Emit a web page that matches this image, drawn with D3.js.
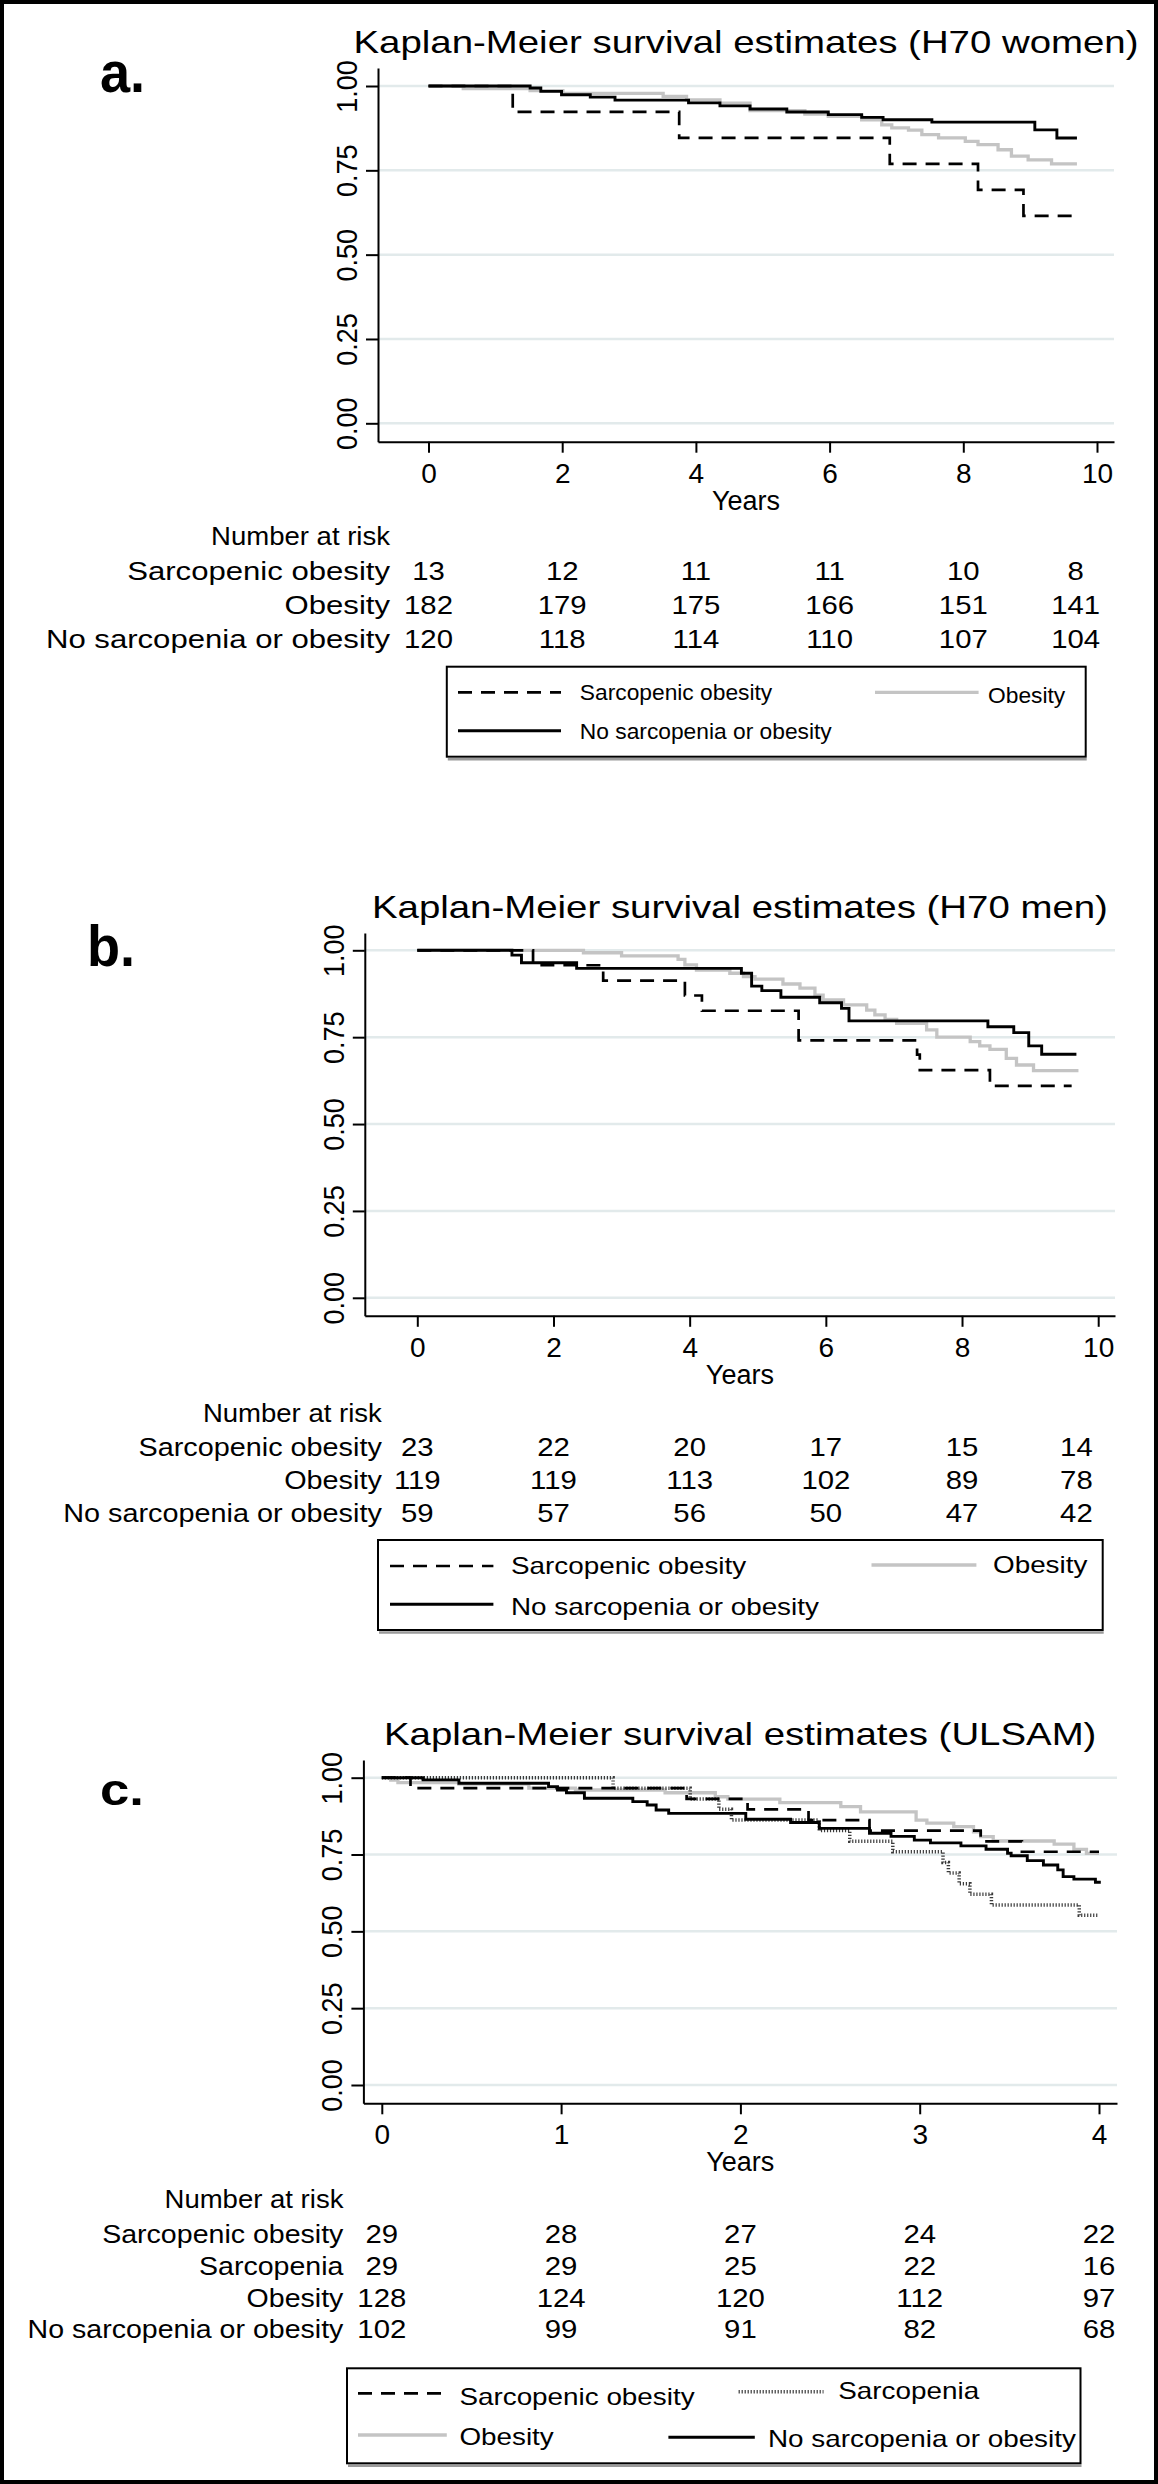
<!DOCTYPE html>
<html>
<head>
<meta charset="utf-8">
<script src="https://cdn.jsdelivr.net/npm/d3@7"></script>
<style>
    body { margin: 0; background: #fff; }
    text { font-family: "Liberation Sans", Arial, Helvetica, sans-serif; fill: #000; }
</style>
</head>
<body>
<svg width="1158" height="2484"></svg>
<script>
// ticks and titles
const yTicks = [0, 0.25, 0.5, 0.75, 1];
const aXTicks = [0, 2, 4, 6, 8, 10];
const bXTicks = [0, 2, 4, 6, 8, 10];
const cXTicks = [0, 1, 2, 3, 4];

const titles = [
    "Kaplan-Meier survival estimates (H70 women)",
    "Kaplan-Meier survival estimates (H70 men)",
    "Kaplan-Meier survival estimates (ULSAM)"
];
const panelLabels = ["a.", "b.", "c."];
const groupNames = { so: "Sarcopenic obesity", sp: "Sarcopenia", ob: "Obesity", no: "No sarcopenia or obesity" };

// survival steps [years, survival]
const aSarcObesity = [[0, 1], [1.26, 0.923], [3.75, 0.846], [6.90, 0.769], [8.22, 0.692], [8.90, 0.615], [9.65, 0.615]];
const aObesity = [[0, 1], [0.52, 0.992], [1.52, 0.986], [2.01, 0.978], [3.51, 0.969], [3.86, 0.959], [4.36, 0.949],
    [4.81, 0.927], [5.63, 0.917], [5.98, 0.910], [6.48, 0.900], [6.78, 0.885], [6.93, 0.876], [7.18, 0.869],
    [7.38, 0.856], [7.63, 0.846], [8.03, 0.836], [8.22, 0.826], [8.52, 0.811], [8.72, 0.792], [8.97, 0.781],
    [9.32, 0.769], [9.70, 0.769]];
const aNoSarc = [[0, 1], [1.52, 0.994], [1.68, 0.984], [1.99, 0.974], [2.42, 0.967], [2.79, 0.958], [3.89, 0.950],
    [4.36, 0.941], [4.81, 0.932], [5.36, 0.923], [5.98, 0.915], [6.48, 0.907], [6.80, 0.900], [7.53, 0.893],
    [9.07, 0.870], [9.40, 0.846], [9.70, 0.846]];

const bSarcObesity = [[0, 1], [1.70, 0.957], [2.73, 0.913], [3.93, 0.870], [4.18, 0.826], [5.60, 0.741],
    [7.34, 0.700], [7.38, 0.655], [8.41, 0.610], [9.61, 0.610]];
const bObesity = [[0, 1], [2.44, 0.993], [3.00, 0.984], [3.83, 0.974], [3.93, 0.958], [4.10, 0.943], [4.59, 0.934],
    [4.79, 0.924], [4.96, 0.917], [5.37, 0.903], [5.62, 0.891], [5.84, 0.871], [5.96, 0.857], [6.26, 0.843],
    [6.60, 0.828], [6.72, 0.814], [6.87, 0.801], [7.04, 0.790], [7.48, 0.771], [7.63, 0.750], [8.12, 0.737],
    [8.26, 0.725], [8.41, 0.715], [8.65, 0.689], [8.80, 0.670], [9.05, 0.654], [9.71, 0.654]];
const bNoSarc = [[0, 1], [1.39, 0.986], [1.53, 0.964], [2.34, 0.948], [4.76, 0.934], [4.91, 0.897], [5.06, 0.884],
    [5.34, 0.865], [5.91, 0.849], [6.23, 0.833], [6.34, 0.797], [8.38, 0.780], [8.76, 0.763], [8.98, 0.725],
    [9.17, 0.701], [9.68, 0.701]];

const cSarcObesity = [[0, 1], [0.16, 0.966], [1.70, 0.931], [2.04, 0.897], [2.38, 0.862], [2.72, 0.828],
    [3.34, 0.793], [3.57, 0.759], [4.0, 0.759]];
const cSarcopenia = [[0, 1], [1.29, 0.966], [1.72, 0.931], [1.88, 0.897], [1.95, 0.862], [2.44, 0.828],
    [2.61, 0.793], [2.85, 0.759], [3.13, 0.724], [3.16, 0.690], [3.22, 0.655], [3.28, 0.621], [3.40, 0.586],
    [3.89, 0.552], [4.0, 0.552]];
const cObesity = [[0, 1], [0.05, 0.992], [0.09, 0.984], [0.43, 0.979], [0.82, 0.966], [1.08, 0.960], [1.58, 0.951],
    [1.86, 0.938], [1.93, 0.930], [2.22, 0.919], [2.56, 0.906], [2.67, 0.889], [2.98, 0.862], [3.04, 0.852],
    [3.19, 0.841], [3.30, 0.824], [3.34, 0.808], [3.41, 0.794], [3.75, 0.784], [3.86, 0.767], [3.93, 0.754],
    [4.0, 0.754]];
const cNoSarc = [[0, 1], [0.23, 0.993], [0.43, 0.982], [0.93, 0.971], [0.98, 0.960], [1.03, 0.951], [1.13, 0.933],
    [1.40, 0.922], [1.48, 0.911], [1.53, 0.895], [1.60, 0.884], [2.03, 0.865], [2.28, 0.854], [2.44, 0.835],
    [2.72, 0.819], [2.84, 0.809], [2.97, 0.797], [3.06, 0.788], [3.23, 0.778], [3.37, 0.767], [3.49, 0.754],
    [3.51, 0.746], [3.60, 0.730], [3.69, 0.716], [3.77, 0.700], [3.80, 0.678], [3.86, 0.670], [3.98, 0.660],
    [4.01, 0.660]];

// number at risk
const aRiskTimes = [0, 2, 4, 6, 8, 9.68];
const aRiskSO = [13, 12, 11, 11, 10, 8];
const aRiskOB = [182, 179, 175, 166, 151, 141];
const aRiskNO = [120, 118, 114, 110, 107, 104];

const bRiskTimes = [0, 2, 4, 6, 8, 9.68];
const bRiskSO = [23, 22, 20, 17, 15, 14];
const bRiskOB = [119, 119, 113, 102, 89, 78];
const bRiskNO = [59, 57, 56, 50, 47, 42];

const cRiskTimes = [0, 1, 2, 3, 4];
const cRiskSO = [29, 28, 27, 24, 22];
const cRiskSP = [29, 29, 25, 22, 16];
const cRiskOB = [128, 124, 120, 112, 97];
const cRiskNO = [102, 99, 91, 82, 68];

const styles = {
    so: { color: "#000", width: 2.7, dash: "14,9" },
    sp: { color: "#3a3a3a", width: 3.5, dash: "1.2,1.8" },
    ob: { color: "#c4c4c4", width: 3.3, dash: null },
    no: { color: "#000", width: 2.9, dash: null }
};
const drawOrder = ["ob", "sp", "so", "no"];

let svg = d3.select("svg");

svg.append("rect")
    .attr("x", 2).attr("y", 2).attr("width", 1154).attr("height", 2480)
    .attr("fill", "#fff").attr("stroke", "#000").attr("stroke-width", 4);

const panels = [
    {
        left: 378, right: 1114, top: 68, bottom: 441.7,
        xMax: 10, xRange: [428.5, 1097], yRange: [423.3, 86], xTicks: aXTicks,
        title: titles[0], titleY: 53, label: panelLabels[0], labelX: 100, labelY: 92, labelSize: 57, labelSx: 0.95,
        series: { so: aSarcObesity, ob: aObesity, no: aNoSarc },
        riskTimes: aRiskTimes, riskRows: [["so", aRiskSO], ["ob", aRiskOB], ["no", aRiskNO]],
        tableX: 390, tableY: 545, rowY: [580, 614, 648], tableSx: 1.22,
        legend: {
            box: [446.8, 666.7, 1085.7, 756.7], size: 21.5, sx: 1.06,
            items: [
                { key: "so", x1: 458, x2: 561, y: 692.3, tx: 579.8, ty: 700 },
                { key: "ob", x1: 875, x2: 978.6, y: 692.3, tx: 988, ty: 702.5 },
                { key: "no", x1: 458, x2: 561, y: 730.7, tx: 579.8, ty: 739.3 }
            ]
        }
    },
    {
        left: 364.8, right: 1115, top: 933, bottom: 1315.8,
        xMax: 10, xRange: [417.3, 1098.2], yRange: [1297.8, 950.3], xTicks: bXTicks,
        title: titles[1], titleY: 917.8, label: panelLabels[1], labelX: 87, labelY: 965.6, labelSize: 57, labelSx: 0.95,
        series: { so: bSarcObesity, ob: bObesity, no: bNoSarc },
        riskTimes: bRiskTimes, riskRows: [["so", bRiskSO], ["ob", bRiskOB], ["no", bRiskNO]],
        tableX: 381.8, tableY: 1421.7, rowY: [1456, 1488.5, 1521.7], tableSx: 1.13,
        legend: {
            box: [378, 1540, 1102.7, 1630], size: 24, sx: 1.16,
            items: [
                { key: "so", x1: 390, x2: 493.4, y: 1566, tx: 511, ty: 1574 },
                { key: "ob", x1: 871.5, x2: 976.4, y: 1565, tx: 993, ty: 1573.3 },
                { key: "no", x1: 390, x2: 493.4, y: 1604.3, tx: 511, ty: 1615 }
            ]
        }
    },
    {
        left: 363.4, right: 1117, top: 1760, bottom: 2103.3,
        xMax: 4, xRange: [381.8, 1099], yRange: [2085, 1777.7], xTicks: cXTicks,
        title: titles[2], titleY: 1745, label: panelLabels[2], labelX: 100, labelY: 1805, labelSize: 45, labelSx: 1.17,
        series: { so: cSarcObesity, sp: cSarcopenia, ob: cObesity, no: cNoSarc },
        riskTimes: cRiskTimes, riskRows: [["so", cRiskSO], ["sp", cRiskSP], ["ob", cRiskOB], ["no", cRiskNO]],
        tableX: 343.4, tableY: 2208.3, rowY: [2242.7, 2274.5, 2306.7, 2338.3], tableSx: 1.12,
        legend: {
            box: [347, 2368.3, 1080.5, 2463.3], size: 24, sx: 1.16,
            items: [
                { key: "so", x1: 358, x2: 446.8, y: 2393.3, tx: 459.4, ty: 2405 },
                { key: "sp", x1: 738.6, x2: 823.5, y: 2391.7, tx: 838.3, ty: 2399 },
                { key: "ob", x1: 358, x2: 446.8, y: 2435, tx: 459.4, ty: 2445 },
                { key: "no", x1: 668.4, x2: 754.8, y: 2437.3, tx: 768, ty: 2447.3 }
            ]
        }
    }
];

panels.forEach(drawPanel);


function addText(parent, str, x, y, size, sx, anchor) {
    return parent.append("text")
        .attr("transform", `translate(${x},${y}) scale(${sx},1)`)
        .attr("text-anchor", anchor)
        .attr("font-size", size)
        .text(str);
}

function strokeStyle(sel, key) {
    const st = styles[key];
    sel.attr("fill", "none")
        .attr("stroke", st.color)
        .attr("stroke-width", st.width)
        .attr("stroke-dasharray", st.dash);
}

function drawPanel(cfg) {
    let g = svg.append("g");

    // scales run from the known 0 / max positions, then widen to the axis box
    const x = d3.scaleLinear().domain([0, cfg.xMax]).range(cfg.xRange);
    x.domain([x.invert(cfg.left), x.invert(cfg.right)]).range([cfg.left, cfg.right]);
    const y = d3.scaleLinear().domain([0, 1]).range(cfg.yRange);
    y.domain([y.invert(cfg.bottom), y.invert(cfg.top)]).range([cfg.bottom, cfg.top]);

    /* ----------- grid ----------- */

    g.selectAll("line.grid")
        .data(yTicks)
        .enter()
        .append("line")
        .attr("class", "grid")
        .attr("x1", cfg.left)
        .attr("x2", cfg.right)
        .attr("y1", d => y(d))
        .attr("y2", d => y(d))
        .attr("stroke", "#e2eaeb")
        .attr("stroke-width", 2.5);

    /* ----------- axes ----------- */

    g.append("g")
        .attr("transform", `translate(${cfg.left},0)`)
        .call(d3.axisLeft(y).tickValues(yTicks).tickSize(12).tickSizeOuter(0).tickFormat(d3.format(".2f")))
        .call(a => a.select(".domain").attr("stroke-width", 2))
        .call(a => a.selectAll(".tick line").attr("stroke-width", 2))
        .call(a => a.selectAll(".tick text")
            .attr("x", null)
            .attr("dy", null)
            .attr("font-size", 27)
            .attr("text-anchor", "middle")
            .attr("transform", "translate(-21,0) scale(1.07,1) rotate(-90)"));

    g.append("g")
        .attr("transform", `translate(0,${cfg.bottom})`)
        .call(d3.axisBottom(x).tickValues(cfg.xTicks).tickSize(11).tickSizeOuter(0).tickFormat(d3.format("d")))
        .call(a => a.select(".domain").attr("stroke-width", 2))
        .call(a => a.selectAll(".tick line").attr("stroke-width", 2))
        .call(a => a.selectAll(".tick text")
            .attr("y", 41)
            .attr("dy", null)
            .attr("font-size", 28));

    addText(g, "Years", (cfg.left + cfg.right) / 2, cfg.bottom + 68, 27, 1, "middle");

    /* ----------- curves ----------- */

    const line = d3.line()
        .curve(d3.curveStepAfter)
        .x(d => x(d[0]))
        .y(d => y(d[1]));

    drawOrder.filter(k => cfg.series[k]).forEach(k => {
        g.append("path")
            .datum(cfg.series[k])
            .attr("d", line)
            .call(strokeStyle, k);
    });

    /* ----------- titles ----------- */

    addText(g, cfg.title, (cfg.left + cfg.right) / 2, cfg.titleY, 32, 1.2, "middle");
    addText(g, cfg.label, cfg.labelX, cfg.labelY, cfg.labelSize, cfg.labelSx, "start")
        .attr("font-weight", "bold");

    /* ----------- number at risk ----------- */

    addText(g, "Number at risk", cfg.tableX, cfg.tableY, 25.5, 1.08, "end");
    cfg.riskRows.forEach(([key, counts], i) => {
        const ry = cfg.rowY[i];
        addText(g, groupNames[key], cfg.tableX, ry, 25.5, cfg.tableSx, "end");
        g.selectAll(null)
            .data(counts)
            .enter()
            .append("text")
            .attr("transform", (d, j) => `translate(${x(cfg.riskTimes[j])},${ry}) scale(1.15,1)`)
            .attr("text-anchor", "middle")
            .attr("font-size", 25.5)
            .text(d => d);
    });

    /* ----------- legend ----------- */

    const lg = cfg.legend;
    const [bx0, by0, bx1, by1] = lg.box;
    g.append("line")
        .attr("x1", bx0 + 1).attr("x2", bx1 + 1)
        .attr("y1", by1 + 2.5).attr("y2", by1 + 2.5)
        .attr("stroke", "#9a9a9a").attr("stroke-width", 2.5);
    g.append("rect")
        .attr("x", bx0).attr("y", by0)
        .attr("width", bx1 - bx0).attr("height", by1 - by0)
        .attr("fill", "#fff").attr("stroke", "#000").attr("stroke-width", 2);

    lg.items.forEach(it => {
        g.append("line")
            .attr("x1", it.x1).attr("x2", it.x2)
            .attr("y1", it.y).attr("y2", it.y)
            .call(strokeStyle, it.key);
        addText(g, groupNames[it.key], it.tx, it.ty, lg.size, lg.sx, "start");
    });
}
</script>
</body>
</html>
